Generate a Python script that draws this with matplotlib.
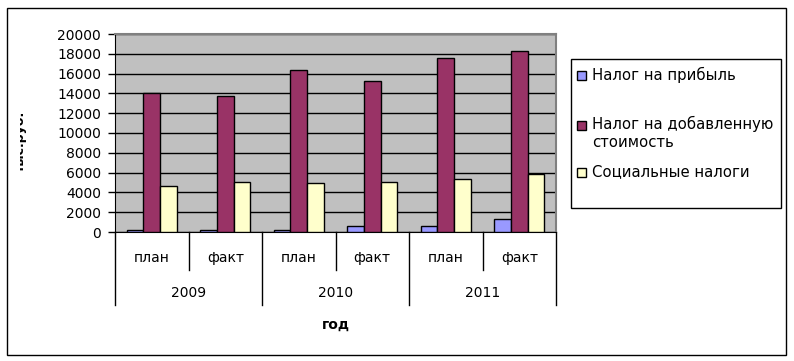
import matplotlib
matplotlib.use("Agg")
import matplotlib.pyplot as plt
from matplotlib.patches import Rectangle
from matplotlib.transforms import Bbox, blended_transform_factory

# data
years = ["2009", "2010", "2011"]
kinds = ["план", "факт"]
series_names = ["Налог на прибыль", "Налог на добавленную\nстоимость", "Социальные налоги"]
profit_tax = [250, 250, 250, 650, 650, 1350]
vat = [14000, 13700, 16400, 15300, 17600, 18300]
social_tax = [4600, 5100, 5000, 5100, 5400, 5900]
colors = ["#9999FF", "#993366", "#FFFFCC"]
y_ticks = [0, 2000, 4000, 6000, 8000, 10000, 12000, 14000, 16000, 18000, 20000]

W, H = 794, 361
plt.rcParams["font.family"] = ["DejaVu Sans"]
plt.rcParams["font.size"] = 10

fig = plt.figure(figsize=(W / 100, H / 100), dpi=100)


def fx(px):
    return px / W


def fy(py):
    return 1 - py / H


# plot area in pixels
left, right, top, bottom = 115, 556, 34, 232
ax = fig.add_axes([fx(left), fy(bottom), fx(right - left), (bottom - top) / H])
ax.set_facecolor("#C0C0C0")

n = len(vat)
bw = 0.227
for j, vals in enumerate([profit_tax, vat, social_tax]):
    xs = [i + 0.5 + (j - 1) * bw for i in range(n)]
    ax.bar(xs, vals, width=bw, color=colors[j], edgecolor="black", linewidth=1, zorder=3)

ax.set_xlim(0, n)
ax.set_ylim(0, 20000)
ax.set_yticks(y_ticks)
ax.set_yticklabels([str(v) for v in y_ticks])
ax.yaxis.grid(True, color="black", linewidth=1, zorder=1)
ax.tick_params(axis="y", direction="out", length=5, width=1, pad=5, labelsize=10)
ax.set_xticks([])
ax.spines["left"].set_color("black")
ax.spines["bottom"].set_color("black")
ax.spines["top"].set_color("#808080")
ax.spines["right"].set_color("#808080")
ax.spines["top"].set_linewidth(1.5)
ax.spines["right"].set_linewidth(1.5)

# two-level category axis
tr = blended_transform_factory(ax.transData, ax.transAxes)
h_in = (270 - bottom) / (bottom - top)
h_out = (305 - bottom) / (bottom - top)
for b in range(n + 1):
    depth = h_out if b % 2 == 0 else h_in
    ax.plot([b, b], [0, -depth], color="black", linewidth=1, transform=tr, clip_on=False)
for i in range(n):
    ax.text(i + 0.5, -(258 - bottom) / (bottom - top), kinds[i % 2], transform=tr,
            ha="center", va="center", fontsize=10)
for k, yr in enumerate(years):
    ax.text(2 * k + 1, -(293 - bottom) / (bottom - top), yr, transform=tr,
            ha="center", va="center", fontsize=10)
ax.text(n / 2, -(325 - bottom) / (bottom - top), "год", transform=tr,
        ha="center", va="center", fontsize=10, fontweight="bold")

# y axis title, mostly hidden at the left as in the reference
yl = fig.text(fx(27), fy(141), "тыс.руб.", rotation=90, ha="right", va="center",
              fontsize=9, fontweight="bold")
yl.set_clip_box(Bbox([[20, 0], [60, H]]))
yl.set_clip_on(True)

# outer chart border
fig.patches.append(Rectangle((fx(7), fy(355)), fx(786 - 7), (355 - 8) / H,
                             transform=fig.transFigure, fill=False,
                             edgecolor="black", linewidth=1))

# legend box
fig.patches.append(Rectangle((fx(571), fy(208)), fx(781 - 571), (208 - 59) / H,
                             transform=fig.transFigure, fill=False,
                             edgecolor="black", linewidth=1))
marker_y = [75, 125, 172]
text_y = [75, 133, 172]
for name, col, my, ty in zip(series_names, colors, marker_y, text_y):
    fig.patches.append(Rectangle((fx(577), fy(my + 4.5)), fx(9), 9 / H,
                                 transform=fig.transFigure, facecolor=col,
                                 edgecolor="black", linewidth=1))
    fig.text(fx(592), fy(ty), name, ha="left", va="center", fontsize=10.7,
             linespacing=1.2)

fig.savefig("out.png", dpi=100)
